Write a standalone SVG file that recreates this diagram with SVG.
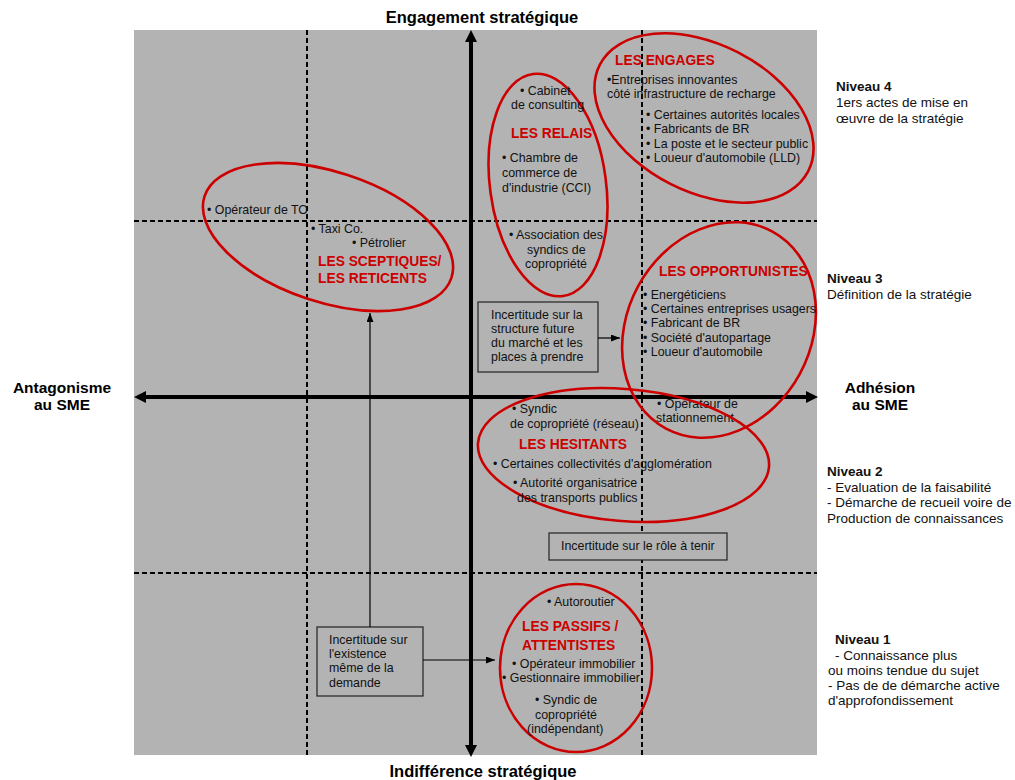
<svg xmlns="http://www.w3.org/2000/svg" width="1015" height="780" viewBox="0 0 1015 780">
<defs>
<style>
.t{font-family:"Liberation Sans",Arial,sans-serif;font-size:12.4px;fill:#111}
.h{font-family:"Liberation Sans",Arial,sans-serif;font-size:13.8px;font-weight:bold;fill:#cc0000}
.ax{font-family:"Liberation Sans",Arial,sans-serif;font-size:16.5px;font-weight:bold;fill:#000}
.side{font-family:"Liberation Sans",Arial,sans-serif;font-size:15.5px;font-weight:bold;fill:#000;text-anchor:middle}
.lv{font-family:"Liberation Sans",Arial,sans-serif;font-size:13.5px;fill:#111}
.lvb{font-weight:bold}
.ell{fill:none;stroke:#cc0000;stroke-width:2.6}
.box{fill:#b3b3b3;stroke:#222;stroke-width:1.2}
.dash{stroke:#000;stroke-width:2;stroke-dasharray:5 3;fill:none}
.axis{stroke:#000;stroke-width:4;fill:none}
.conn{stroke:#000;stroke-width:1.2;fill:none}
</style>
<marker id="axh" markerUnits="userSpaceOnUse" markerWidth="14" markerHeight="12" refX="2" refY="6" orient="auto-start-reverse">
<path d="M0,0 L12,6 L0,12 z" fill="#000"/>
</marker>
<marker id="ah" markerUnits="userSpaceOnUse" markerWidth="10" markerHeight="8" refX="9" refY="3.5" orient="auto">
<path d="M0,0 L9,3.5 L0,7 z" fill="#000"/>
</marker>
</defs>
<rect x="0" y="0" width="1015" height="780" fill="#fff"/>
<rect x="134" y="30" width="683" height="725" fill="#b3b3b3"/>

<g id="grid">
<line class="dash" x1="307" y1="30" x2="307" y2="755"/>
<line class="dash" x1="642" y1="30" x2="642" y2="755"/>
<line class="dash" x1="134" y1="221" x2="817" y2="221"/>
<line class="dash" x1="134" y1="573" x2="817" y2="573"/>
</g>

<g id="axes">
<line class="axis" x1="471" y1="40" x2="471" y2="747" marker-start="url(#axh)" marker-end="url(#axh)"/>
<line class="axis" x1="144" y1="397" x2="808" y2="397" marker-start="url(#axh)" marker-end="url(#axh)"/>
<text class="ax" x="482" y="23" text-anchor="middle">Engagement stratégique</text>
<text class="ax" x="483" y="777" text-anchor="middle">Indifférence stratégique</text>
<text class="side" x="62" y="393">Antagonisme</text>
<text class="side" x="62" y="410">au SME</text>
<text class="side" x="880" y="393">Adhésion</text>
<text class="side" x="880" y="410">au SME</text>
</g>

<g id="engages">
<ellipse class="ell" cx="704" cy="118" rx="117" ry="74" transform="rotate(27 704 118)"/>
<text class="h" x="615" y="65">LES ENGAGES</text>
<text class="t" x="607" y="84">•Entreprises innovantes</text>
<text class="t" x="607" y="98">côté infrastructure de recharge</text>
<text class="t" x="646" y="118.5">• Certaines autorités locales</text>
<text class="t" x="646" y="133">• Fabricants de BR</text>
<text class="t" x="646" y="147.5">• La poste et le secteur public</text>
<text class="t" x="646" y="162">• Loueur d'automobile (LLD)</text>
</g>

<g id="relais">
<ellipse class="ell" cx="548" cy="185" rx="58" ry="112" transform="rotate(-7.7 548 185)"/>
<text class="t" x="520" y="95">• Cabinet</text>
<text class="t" x="511" y="109">de consulting</text>
<text class="h" x="511" y="138">LES RELAIS</text>
<text class="t" x="502" y="162">• Chambre de</text>
<text class="t" x="502" y="177">commerce de</text>
<text class="t" x="502" y="192">d'industrie (CCI)</text>
<text class="t" x="509" y="239">• Association des</text>
<text class="t" x="527" y="254">syndics de</text>
<text class="t" x="525" y="268">copropriété</text>
</g>

<g id="sceptiques">
<ellipse class="ell" cx="328" cy="237" rx="130" ry="65" transform="rotate(18.3 328 237)"/>
<text class="t" x="207" y="214">• Opérateur de TO</text>
<text class="t" x="311" y="233">• Taxi Co.</text>
<text class="t" x="352" y="247">• Pétrolier</text>
<text class="h" x="318" y="266">LES SCEPTIQUES/</text>
<text class="h" x="318" y="283">LES RETICENTS</text>
</g>

<g id="opportunistes">
<ellipse class="ell" cx="719" cy="330" rx="92" ry="112" transform="rotate(28.5 719 330)"/>
<text class="h" x="659" y="276">LES OPPORTUNISTES</text>
<text class="t" x="643" y="299">• Energéticiens</text>
<text class="t" x="643" y="313">• Certaines entreprises usagers</text>
<text class="t" x="643" y="327">• Fabricant de BR</text>
<text class="t" x="643" y="342">• Société d'autopartage</text>
<text class="t" x="643" y="356">• Loueur d'automobile</text>
<text class="t" x="657" y="408">• Opérateur de</text>
<text class="t" x="656" y="422">stationnement</text>
</g>

<g id="hesitants">
<ellipse class="ell" cx="623.5" cy="455" rx="146" ry="66" transform="rotate(4.7 623.5 455)"/>
<text class="t" x="512" y="413">• Syndic</text>
<text class="t" x="510" y="428">de copropriété (réseau)</text>
<text class="h" x="519" y="449">LES HESITANTS</text>
<text class="t" x="493" y="468">• Certaines collectivités d'agglomération</text>
<text class="t" x="513" y="487">• Autorité organisatrice</text>
<text class="t" x="517" y="502">des transports publics</text>
</g>

<g id="passifs">
<ellipse class="ell" cx="576" cy="668" rx="76" ry="84"/>
<text class="t" x="547" y="606">• Autoroutier</text>
<text class="h" x="522" y="631">LES PASSIFS /</text>
<text class="h" x="522" y="650">ATTENTISTES</text>
<text class="t" x="512" y="668">• Opérateur immobilier</text>
<text class="t" x="502" y="682">• Gestionnaire immobilier</text>
<text class="t" x="535" y="704">• Syndic de</text>
<text class="t" x="535" y="719">copropriété</text>
<text class="t" x="527" y="733">(indépendant)</text>
</g>

<g id="box-structure">
<rect class="box" x="478" y="302" width="120" height="70"/>
<text class="t" x="491" y="319">Incertitude sur la</text>
<text class="t" x="491" y="333">structure future</text>
<text class="t" x="491" y="347">du marché et les</text>
<text class="t" x="491" y="361">places à prendre</text>
</g>

<g id="box-role">
<rect class="box" x="549" y="533" width="178" height="27"/>
<text class="t" x="561" y="550">Incertitude sur le rôle à tenir</text>
</g>

<g id="box-existence">
<rect class="box" x="317" y="627" width="106" height="69"/>
<text class="t" x="329" y="644">Incertitude sur</text>
<text class="t" x="329" y="658">l'existence</text>
<text class="t" x="329" y="672">même de la</text>
<text class="t" x="329" y="687">demande</text>
</g>

<g id="connectors">
<line class="conn" x1="598" y1="338" x2="620" y2="338" marker-end="url(#ah)"/>
<line class="conn" x1="370" y1="627" x2="370" y2="313" marker-end="url(#ah)"/>
<line class="conn" x1="423" y1="660" x2="495" y2="660" marker-end="url(#ah)"/>
</g>

<g id="levels">
<text class="lv lvb" x="836" y="91">Niveau 4</text>
<text class="lv" x="836" y="107">1ers actes de mise en</text>
<text class="lv" x="836" y="123">œuvre de la stratégie</text>
<text class="lv lvb" x="827" y="283">Niveau 3</text>
<text class="lv" x="827" y="299">Définition de la stratégie</text>
<text class="lv lvb" x="827" y="476">Niveau 2</text>
<text class="lv" x="827" y="492">- Evaluation de la faisabilité</text>
<text class="lv" x="827" y="507">- Démarche de recueil voire de</text>
<text class="lv" x="827" y="523">Production de connaissances</text>
<text class="lv lvb" x="835" y="644">Niveau 1</text>
<text class="lv" x="835" y="660">- Connaissance plus</text>
<text class="lv" x="828" y="675">ou moins tendue du sujet</text>
<text class="lv" x="828" y="690">- Pas de de démarche active</text>
<text class="lv" x="828" y="705">d'approfondissement</text>
</g>
</svg>
